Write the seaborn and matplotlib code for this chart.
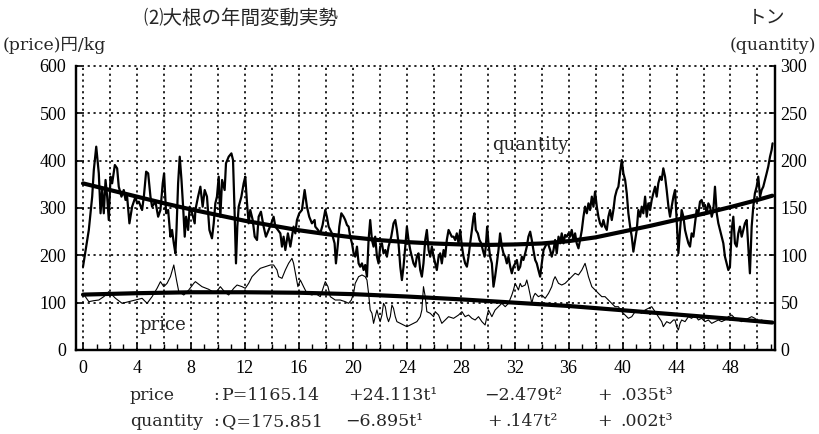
import matplotlib
matplotlib.use("Agg")
import matplotlib.pyplot as plt
from matplotlib.ticker import MultipleLocator, FixedLocator
import seaborn as sns
import pandas as pd

# ---- weekly quantity arrivals (tonnes, right axis) ----
qty_week = [
    0.00, 0.43, 0.68, 0.80, 0.98, 1.17, 1.30, 1.42, 1.54, 1.67, 1.79, 1.91, 2.04, 2.16, 2.36, 2.53,
    2.65, 2.85, 3.02, 3.15, 3.27, 3.44, 3.64, 3.89, 4.01, 4.14, 4.38, 4.51, 4.68, 4.83, 5.00, 5.12,
    5.37, 5.57, 5.74, 5.91, 6.01, 6.16, 6.31, 6.48, 6.60, 6.73, 6.85, 6.93, 7.05, 7.17, 7.30, 7.42,
    7.54, 7.64, 7.79, 7.91, 8.09, 8.28,
    8.33, 8.53, 8.70, 8.87, 9.02, 9.19, 9.37, 9.56, 9.69, 9.81, 9.93, 10.06, 10.18, 10.31, 10.50,
    10.60, 10.80, 11.00, 11.12, 11.24, 11.34, 11.44, 11.54, 11.74, 11.91, 12.03, 12.16, 12.28, 12.40,
    12.58, 12.73, 12.90, 13.02, 13.19, 13.39, 13.56, 13.76, 13.96, 14.13, 14.26, 14.45, 14.63, 14.75,
    14.87, 15.00, 15.19, 15.37, 15.49, 15.61, 15.74, 15.86, 16.03, 16.23, 16.43, 16.60, 16.77, 16.97,
    17.17,
    17.22, 17.42, 17.59, 17.76, 17.96, 18.08, 18.21, 18.33, 18.45, 18.65, 18.75, 18.90, 19.00, 19.15,
    19.32, 19.44, 19.57, 19.69, 19.81, 19.94, 20.06, 20.18, 20.31, 20.43, 20.55, 20.68, 20.80, 20.92,
    21.05, 21.17, 21.29, 21.42, 21.54, 21.66, 21.79, 21.91, 22.03, 22.16, 22.28, 22.41, 22.53, 22.65,
    22.85, 23.02, 23.15, 23.27, 23.39, 23.52, 23.64, 23.76, 23.89, 24.01, 24.13, 24.26, 24.38, 24.50,
    24.63, 24.75, 24.87, 25.00, 25.12, 25.24, 25.37, 25.49, 25.62, 25.74, 25.86, 25.99,
    26.11, 26.23, 26.36, 26.48, 26.60, 26.73, 26.85, 26.97, 27.10, 27.22, 27.34, 27.47, 27.59, 27.71,
    27.84, 27.96, 28.09, 28.21, 28.33, 28.46, 28.58, 28.70, 28.83, 28.95, 29.02, 29.12, 29.27, 29.39,
    29.52, 29.64, 29.77, 29.86, 29.96, 30.06, 30.18, 30.31, 30.43, 30.55, 30.68, 30.80, 30.92, 31.05,
    31.17, 31.30, 31.42, 31.54, 31.67, 31.79, 31.91, 32.04, 32.16, 32.28, 32.41, 32.53, 32.65, 32.78,
    32.90, 33.02, 33.15, 33.27, 33.39, 33.52, 33.64, 33.76, 33.89, 34.01, 34.14, 34.26, 34.38, 34.51,
    34.63, 34.75, 34.88,
    35.00, 35.12, 35.25, 35.37, 35.49, 35.62, 35.74, 35.86, 35.99, 36.11, 36.23, 36.36, 36.48, 36.60,
    36.73, 36.85, 36.98, 37.10, 37.22, 37.35, 37.47, 37.59, 37.72, 37.84, 37.96, 38.09, 38.21, 38.33,
    38.46, 38.58, 38.70, 38.83, 38.95, 39.07, 39.20, 39.32, 39.44, 39.57, 39.69, 39.81, 39.94, 40.06,
    40.19, 40.31, 40.43, 40.56, 40.68, 40.80, 40.93, 41.05, 41.17, 41.30, 41.42, 41.54, 41.67, 41.79,
    41.91, 42.04, 42.16, 42.28, 42.41, 42.53, 42.65, 42.78, 42.90, 43.02, 43.15, 43.27, 43.40, 43.52,
    43.64, 43.77,
    43.89, 44.01, 44.14, 44.26, 44.38, 44.51, 44.63, 44.75, 44.88, 45.00, 45.12, 45.25, 45.37, 45.49,
    45.62, 45.74, 45.86, 45.99, 46.11, 46.24, 46.36, 46.48, 46.61, 46.73, 46.85, 46.98, 47.10, 47.22,
    47.35, 47.47, 47.59, 47.72, 47.84, 47.96, 48.09, 48.21, 48.33, 48.46, 48.58, 48.70, 48.83, 48.95,
    49.07, 49.20, 49.32, 49.44, 49.57, 49.69, 49.81, 49.94, 50.06, 50.19, 50.31, 50.43, 50.56, 50.68,
    50.80, 50.93, 51.05, 51.12,
]
qty_tonnes = [
    88.0, 126.8, 162.0, 190.1, 214.8, 186.6, 144.4, 169.0, 144.4, 179.6, 162.0, 137.3, 183.1, 176.1, 195.4, 191.9,
    172.5, 162.0, 169.0, 158.5, 162.0, 133.8, 151.4, 162.0, 154.9, 156.7, 147.9, 162.0, 188.4, 186.6, 162.0, 151.4,
    156.7, 140.8, 147.9, 176.1, 186.6, 144.4, 147.9, 119.7, 126.8, 112.7, 102.1, 126.8, 176.1, 204.2, 179.6, 151.4,
    119.7, 140.8, 126.8, 151.4, 144.4, 133.8,
    147.9, 162.0, 172.5, 151.4, 169.0, 162.0, 126.8, 118.0, 133.8, 154.9, 162.0, 183.1, 140.8, 179.6, 169.0,
    197.2, 204.2, 207.7, 200.7, 144.4, 91.5, 130.3, 151.4, 162.0, 176.1, 183.1, 154.9, 133.8, 147.9,
    137.3, 119.7, 116.2, 140.8, 146.1, 130.3, 119.7, 126.8, 133.8, 140.8, 130.3, 126.8, 123.2, 109.2,
    119.7, 105.6, 123.2, 109.2, 119.7, 130.3, 123.2, 137.3, 144.4, 147.9, 169.0, 151.4, 140.8, 133.8,
    137.3,
    130.3, 126.8, 123.2, 132.0, 147.9, 140.8, 130.3, 126.8, 123.2, 112.7, 91.5, 112.7, 130.3, 144.4,
    140.8, 137.3, 132.0, 130.3, 119.7, 112.7, 102.1, 98.6, 109.2, 91.5, 88.0, 91.5, 84.5, 89.8,
    77.5, 116.2, 137.3, 116.2, 109.2, 119.7, 98.6, 91.5, 109.2, 112.7, 102.1, 105.6, 98.6, 109.2,
    119.7, 133.8, 137.3, 126.8, 112.7, 88.0, 73.9, 88.0, 109.2, 130.3, 116.2, 105.6, 98.6, 91.5,
    88.0, 98.6, 102.1, 84.5, 77.5, 91.5, 116.2, 126.8, 105.6, 98.6, 109.2, 98.6,
    91.5, 84.5, 98.6, 102.1, 91.5, 105.6, 98.6, 116.2, 126.8, 123.2, 119.7, 119.7, 116.2, 123.2,
    112.7, 126.8, 109.2, 98.6, 91.5, 88.0, 98.6, 112.7, 126.8, 140.8, 144.4, 126.8, 123.2, 116.2,
    112.7, 105.6, 98.6, 109.2, 130.3, 112.7, 98.6, 91.5, 66.9, 77.5, 91.5, 105.6, 123.2, 109.2,
    102.1, 98.6, 91.5, 98.6, 88.0, 81.0, 88.0, 91.5, 95.1, 84.5, 88.0, 98.6, 95.1, 102.1,
    109.2, 119.7, 125.0, 116.2, 105.6, 95.1, 91.5, 84.5, 77.5, 91.5, 105.6, 109.2, 112.7, 110.9,
    105.6, 98.6, 105.6,
    116.2, 102.1, 119.7, 112.7, 123.2, 112.7, 121.5, 119.7, 123.2, 119.7, 126.8, 116.2, 123.2, 112.7,
    107.4, 116.2, 126.8, 140.8, 151.4, 144.4, 154.9, 147.9, 162.0, 151.4, 167.3, 151.4, 140.8, 133.8,
    130.3, 137.3, 130.3, 126.8, 140.8, 147.9, 137.3, 147.9, 162.0, 169.0, 172.5, 186.6, 200.7, 186.6,
    179.6, 165.5, 144.4, 130.3, 119.7, 103.9, 116.2, 126.8, 147.9, 140.8, 151.4, 144.4, 162.0, 140.8,
    154.9, 147.9, 158.5, 165.5, 172.5, 162.0, 176.1, 183.1, 179.6, 191.9, 183.1, 169.0, 151.4, 140.8,
    151.4, 162.0,
    169.0, 137.3, 102.1, 126.8, 147.9, 140.8, 126.8, 119.7, 112.7, 109.2, 123.2, 119.7, 133.8, 147.9,
    144.4, 156.7, 158.5, 151.4, 153.2, 144.4, 154.9, 151.4, 140.8, 147.9, 172.5, 144.4, 133.8, 126.8,
    119.7, 112.7, 98.6, 91.5, 84.5, 88.0, 126.8, 140.8, 112.7, 109.2, 123.2, 130.3, 119.7, 126.8,
    133.8, 137.3, 109.2, 81.0, 130.3, 151.4, 165.5, 172.5, 183.1, 162.0, 169.0, 172.5, 179.6, 186.6,
    193.7, 204.2, 211.3, 218.3,
]

# ---- weekly wholesale price (yen/kg, left axis) ----
price_week = [
    0.00, 0.43, 0.80, 1.17, 1.54, 1.91, 2.16, 2.41, 2.90, 3.40, 3.89, 4.38, 4.75, 5.12, 5.49, 5.74,
    5.99, 6.23, 6.48, 6.73, 6.93, 7.10, 7.47, 7.84, 8.21,
    8.33, 8.82, 9.32, 9.81, 10.18, 10.55, 10.80, 11.17, 11.42, 11.79, 12.03, 12.28, 12.53, 12.77,
    13.14, 13.52, 13.89, 14.13, 14.38, 14.50, 14.75, 15.00, 15.24, 15.49, 15.61, 15.79, 15.93, 16.11,
    16.35, 16.60, 16.97,
    17.22, 17.59, 17.84, 17.96, 18.16, 18.33, 18.70, 19.07, 19.44, 19.69, 19.89, 20.06, 20.18, 20.43,
    20.68, 20.92, 21.05, 21.17, 21.29, 21.42, 21.54, 21.66, 21.79, 21.91, 22.03, 22.16, 22.28, 22.41,
    22.53, 22.65, 22.78, 22.90, 23.02, 23.15, 23.27, 23.52, 23.76, 24.01, 24.26, 24.50, 24.75, 25.00,
    25.12, 25.24, 25.37, 25.49, 25.74, 25.99,
    26.11, 26.36, 26.60, 26.85, 27.10, 27.47, 27.84, 28.09, 28.33, 28.58, 28.83, 29.07, 29.32, 29.57,
    29.81, 29.94, 30.06, 30.18, 30.31, 30.55, 30.80, 31.05, 31.30, 31.54, 31.79, 31.91, 32.04, 32.16,
    32.28, 32.41, 32.53, 32.78, 32.90, 33.02, 33.15, 33.27, 33.39, 33.52, 33.76, 34.01, 34.26, 34.51,
    34.75, 34.88,
    35.00, 35.25, 35.49, 35.74, 35.99, 36.23, 36.48, 36.73, 36.98, 37.22, 37.35, 37.47, 37.72, 37.96,
    38.21, 38.46, 38.70, 38.95, 39.20, 39.44, 39.69, 39.94, 40.19, 40.43, 40.68, 40.93, 41.17, 41.42,
    41.67, 41.91, 42.16, 42.41, 42.65, 42.90, 43.02, 43.27, 43.52, 43.77,
    43.89, 44.01, 44.14, 44.26, 44.38, 44.63, 44.88, 45.12, 45.37, 45.62, 45.86, 46.11, 46.36, 46.61,
    46.85, 47.10, 47.35, 47.59, 47.84, 48.09, 48.33, 48.58, 48.83, 49.07, 49.32, 49.57, 49.81, 50.06,
    50.31, 50.56, 50.80, 51.05,
]
price_yen = [
    119.7, 102.1, 104.2, 105.6, 112.7, 123.2, 116.2, 109.2, 98.6, 102.1, 105.6, 109.2, 98.6, 112.7, 130.3, 144.4,
    133.8, 140.8, 154.9, 179.6, 147.9, 123.2, 116.2, 126.8, 140.8,
    144.4, 133.8, 128.2, 119.7, 133.8, 121.1, 116.2, 130.3, 137.3, 133.8, 130.3, 140.8, 154.9, 162.0,
    172.5, 176.1, 179.6, 179.6, 169.0, 154.9, 151.4, 169.0, 183.1, 193.7, 183.1, 154.9, 133.8, 147.9,
    133.8, 119.7, 116.2,
    119.7, 112.7, 133.8, 144.4, 133.8, 112.7, 105.6, 105.6, 102.1, 98.6, 105.6, 119.7, 140.8, 154.9,
    158.5, 154.9, 147.9, 119.7, 84.5, 77.5, 56.3, 70.4, 84.5, 70.4, 59.9, 73.9, 98.6, 91.5,
    70.4, 59.9, 70.4, 95.1, 88.0, 70.4, 59.9, 56.3, 52.8, 49.3, 52.8, 56.3, 59.9, 70.4,
    84.5, 133.8, 112.7, 81.0, 77.5, 70.4,
    81.0, 73.9, 56.3, 63.4, 70.4, 66.9, 73.9, 81.0, 70.4, 73.9, 66.9, 63.4, 70.4, 59.9,
    52.8, 70.4, 84.5, 77.5, 70.4, 84.5, 91.5, 98.6, 91.5, 98.6, 116.2, 126.8, 140.8, 133.8,
    126.8, 140.8, 133.8, 137.3, 147.9, 133.8, 116.2, 98.6, 112.7, 119.7, 112.7, 116.2, 109.2, 119.7,
    133.8, 147.9,
    154.9, 140.8, 137.3, 140.8, 147.9, 154.9, 162.0, 158.5, 169.0, 183.1, 169.0, 154.9, 133.8, 126.8,
    119.7, 112.7, 112.7, 105.6, 98.6, 91.5, 91.5, 81.0, 73.9, 66.9, 70.4, 81.0, 81.0, 77.5,
    84.5, 88.0, 91.5, 81.0, 70.4, 59.9, 49.3, 59.9, 56.3, 63.4,
    63.4, 49.3, 42.3, 56.3, 63.4, 59.9, 70.4, 66.9, 73.9, 63.4, 66.9, 59.9, 63.4, 56.3,
    59.9, 63.4, 59.9, 63.4, 70.4, 73.9, 66.9, 63.4, 59.9, 63.4, 66.9, 70.4, 66.9, 59.9,
    63.4, 59.9, 57.7, 59.9,
]

# ---- fitted cubic trends ----
qty_trend_week = [0, 2, 4, 6, 8, 10, 12, 14, 16, 18, 20, 22, 24, 26, 28, 30, 32, 34, 36, 38, 40, 42,
                  44, 46, 48, 50, 51.1]
qty_trend = [176, 169, 162, 155, 148.5, 142.5, 136.5, 131.5, 126.5, 122.5, 119, 116, 114, 112.5,
             111.5, 111, 111.5, 112.5, 115, 119, 125, 131, 137.5, 144, 151, 158.5, 163]
price_trend_week = [0, 4, 8, 12, 16, 20, 24, 28, 32, 36, 40, 44, 48, 51.1]
price_trend = [117, 120, 122, 122, 121, 118, 113, 107, 100, 93, 84, 75, 66, 58]

# ---- text ----
title = "⑵大根の年間変動実勢"
left_unit = "(price)円/kg"
right_unit_top = "トン"
right_unit = "(quantity)"
x_ticks = list(range(0, 49, 4))
left_ticks = [0, 100, 200, 300, 400, 500, 600]
right_ticks = [0, 50, 100, 150, 200, 250, 300]
eq_price = ["price", ":", "P=1165.14", "+24.113t¹", "−2.479t²", "+", ".035t³"]
eq_qty = ["quantity", ":", "Q=175.851", "−6.895t¹", "+", ".147t²", "+", ".002t³"]

sns.set_theme(style="white")
plt.rcParams["font.family"] = ["Liberation Serif", "Noto Sans CJK JP", "DejaVu Sans"]
plt.rcParams["axes.unicode_minus"] = False
SERIF = ["DejaVu Serif", "Noto Sans CJK JP"]
CJK = ["Noto Sans CJK JP", "DejaVu Sans"]

W, H = 819, 434
fig = plt.figure(figsize=(W / 100, H / 100), dpi=100)
fig.patch.set_facecolor("white")
ax = fig.add_axes([76 / W, 1 - 350 / H, (775 - 76) / W, (350 - 66) / H])
ax2 = ax.twinx()

qty_df = pd.DataFrame({"week": qty_week, "tonnes": qty_tonnes})
price_df = pd.DataFrame({"week": price_week, "yen": price_yen})
qtr_df = pd.DataFrame({"week": qty_trend_week, "tonnes": qty_trend})
ptr_df = pd.DataFrame({"week": price_trend_week, "yen": price_trend})

sns.lineplot(data=price_df, x="week", y="yen", ax=ax, color="black", linewidth=0.8,
             estimator=None, sort=False, zorder=3)
sns.lineplot(data=ptr_df, x="week", y="yen", ax=ax, color="black", linewidth=3.0,
             estimator=None, sort=False, zorder=4)
sns.lineplot(data=qty_df, x="week", y="tonnes", ax=ax2, color="black", linewidth=1.6,
             estimator=None, sort=False, zorder=3)
sns.lineplot(data=qtr_df, x="week", y="tonnes", ax=ax2, color="black", linewidth=3.0,
             estimator=None, sort=False, zorder=4)

xlim = (-0.52, 51.3)
for a in (ax, ax2):
    a.set_xlim(*xlim)
    a.set_xlabel("")
    a.set_ylabel("")
    a.set_facecolor("none")
ax.set_ylim(0, 600)
ax2.set_ylim(0, 300)

# dotted grid
grid_kw = dict(color="black", linewidth=1.2, linestyle=(0, (1.3, 2.2)), zorder=1)
for gx in range(0, 51, 2):
    ax.axvline(gx, **grid_kw)
for gy in range(100, 601, 100):
    ax.axhline(gy, clip_on=False, **grid_kw)

ax.xaxis.set_major_locator(FixedLocator(x_ticks))
ax.xaxis.set_minor_locator(MultipleLocator(1))
ax.set_yticks(left_ticks)
ax2.set_yticks(right_ticks)
ax.set_xticklabels([str(v) for v in x_ticks])

tick_font = 13
ax.tick_params(axis="x", which="major", direction="in", length=5, width=1.2, pad=7,
               labelsize=tick_font, bottom=True, top=False, colors="black")
ax.tick_params(axis="x", which="minor", direction="in", length=4, width=1.0,
               bottom=True, top=False, colors="black")
ax.tick_params(axis="y", direction="in", length=4, width=1.2, pad=7, labelsize=tick_font,
               left=True, colors="black")
ax2.tick_params(axis="y", direction="in", length=4, width=1.2, pad=4, labelsize=tick_font,
                right=True, colors="black")

for a in (ax, ax2):
    a.spines["top"].set_visible(False)
    for s in ("left", "right", "bottom"):
        a.spines[s].set_color("black")
        a.spines[s].set_linewidth(1.6)

# labels inside the plot
ax.text(30.3, 433, "quantity", fontsize=13, ha="left", va="center", family=SERIF)
ax.text(4.2, 53, "price", fontsize=13, ha="left", va="center", family=SERIF)

# headings and axis units
def px(x, y):
    return x / W, 1 - y / H

fig.text(*px(143, 18), title, fontsize=14, ha="left", va="center", family=CJK)
fig.text(*px(3, 45), left_unit, fontsize=12.5, ha="left", va="center", family=SERIF)
fig.text(*px(767, 17), right_unit_top, fontsize=13.5, ha="center", va="center", family=CJK)
fig.text(*px(816, 45), right_unit, fontsize=12.5, ha="right", va="center", family=SERIF)

# fitted equations
row1_x = [130, 213, 222, 348, 484, 597, 620]
row2_x = [130, 213, 222, 345, 487, 505, 597, 620]
for s, xp in zip(eq_price, row1_x):
    fig.text(*px(xp, 395), s, fontsize=12.5, ha="left", va="center", family=SERIF)
for s, xp in zip(eq_qty, row2_x):
    fig.text(*px(xp, 422), s, fontsize=12.5, ha="left", va="center", family=SERIF)

fig.savefig("out.png", dpi=100, facecolor="white")
